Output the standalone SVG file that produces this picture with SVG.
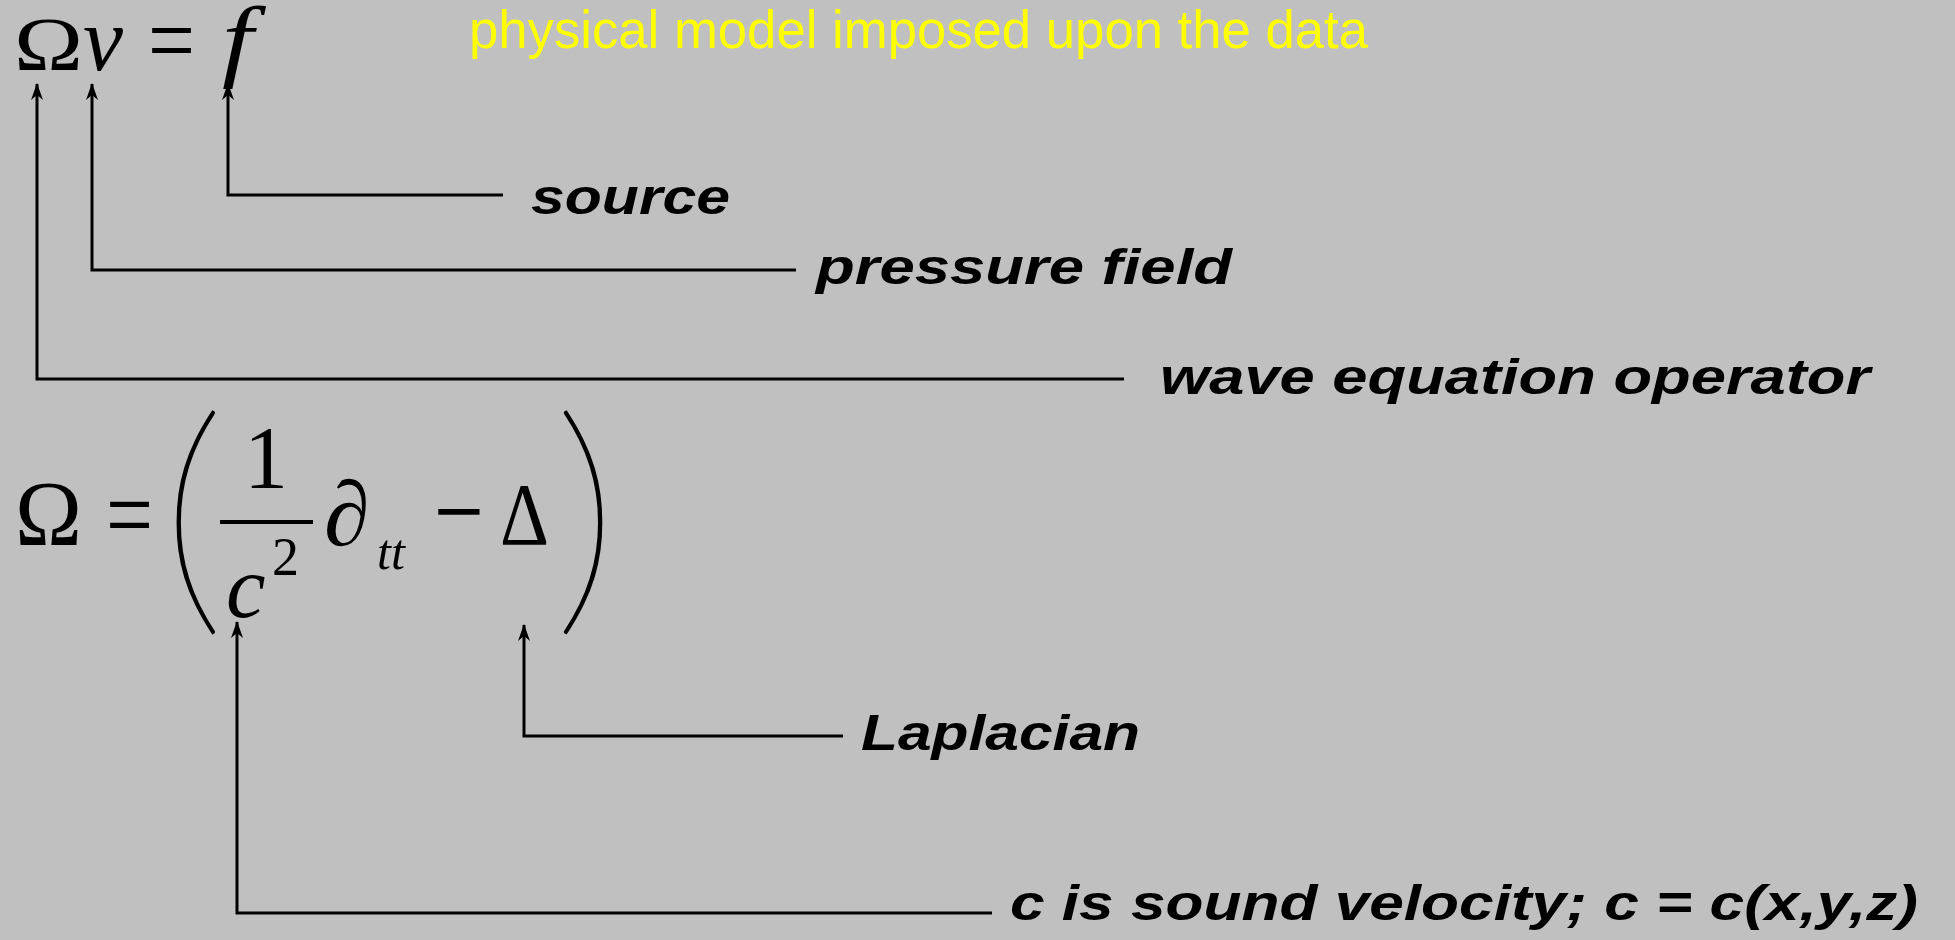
<svg xmlns="http://www.w3.org/2000/svg" width="1955" height="940" viewBox="0 0 1955 940">
<style>
.m{font-family:"Liberation Serif","Times New Roman",serif;fill:#000}
.i{font-style:italic}
.p{font-family:Lato,"Liberation Serif",serif;font-weight:100;font-size:255px;fill:#000;stroke:#000;stroke-width:1.5}
.lb{font-family:"Liberation Sans",Arial,sans-serif;font-weight:bold;font-style:italic;font-size:50px;fill:#000}
.cn{fill:none;stroke:#000;stroke-width:3;marker-end:url(#ah)}
</style>
<defs>
<marker id="ah" markerWidth="18" markerHeight="14" refX="16" refY="7" orient="auto" markerUnits="userSpaceOnUse">
<path d="M0,1 L17,7 L0,13 L5,7 Z" fill="#000"/>
</marker>
</defs>
<rect width="1955" height="940" fill="#C0C0C0"/>
<g id="eq1">
<text class="m" x="14" y="70" font-size="76" textLength="69" lengthAdjust="spacingAndGlyphs">Ω</text>
<text class="m i" x="83" y="70" font-size="90">v</text>
<text class="m" x="148" y="74" font-size="100" textLength="47" lengthAdjust="spacingAndGlyphs">=</text>
<text class="m i" font-size="95" transform="translate(222,70) scale(1.18,0.95)">f</text>
</g>
<g id="title">
<text x="469" y="48" font-family="'Liberation Sans',Arial,sans-serif" font-size="53" fill="#FFFF00" textLength="899" lengthAdjust="spacingAndGlyphs">physical model imposed upon the data</text>
</g>
<g id="eq2">
<text class="m" x="15" y="545" font-size="94" textLength="67" lengthAdjust="spacingAndGlyphs">Ω</text>
<text class="m" x="106" y="550" font-size="105" textLength="47" lengthAdjust="spacingAndGlyphs">=</text>
<text class="p" x="161" y="603">(</text>
<text class="m" x="266" y="487" font-size="88" text-anchor="middle">1</text>
<line x1="220" y1="522" x2="313" y2="522" stroke="#000" stroke-width="4"/>
<text class="m i" x="226" y="617" font-size="89">c</text>
<text class="m" x="272" y="575" font-size="54">2</text>
<text class="m" x="324" y="545" font-size="92">∂</text>
<text class="m i" x="377" y="569" font-size="50">tt</text>
<text class="m" x="434" y="550" font-size="115" textLength="50" lengthAdjust="spacingAndGlyphs">−</text>
<text class="m" x="500" y="544" font-size="88" textLength="49" lengthAdjust="spacingAndGlyphs">Δ</text>
<text class="p" x="554" y="603">)</text>
</g>
<g id="connectors">
<path class="cn" d="M503,195 L228,195 L228,84"/>
<path class="cn" d="M796,270 L92,270 L92,84"/>
<path class="cn" d="M1124,379 L37,379 L37,84"/>
<path class="cn" d="M843,736 L524,736 L524,625"/>
<path class="cn" d="M992,913 L237,913 L237,622"/>
</g>
<g id="label-source"><text class="lb" x="531" y="214" textLength="199" lengthAdjust="spacingAndGlyphs">source</text></g>
<g id="label-pressure"><text class="lb" x="816" y="284" textLength="416" lengthAdjust="spacingAndGlyphs">pressure field</text></g>
<g id="label-wave"><text class="lb" x="1160" y="394" textLength="710" lengthAdjust="spacingAndGlyphs">wave equation operator</text></g>
<g id="label-laplacian"><text class="lb" x="861" y="750" textLength="279" lengthAdjust="spacingAndGlyphs">Laplacian</text></g>
<g id="label-velocity"><text class="lb" x="1010" y="920" textLength="908" lengthAdjust="spacingAndGlyphs">c is sound velocity; c = c(x,y,z)</text></g>
</svg>
